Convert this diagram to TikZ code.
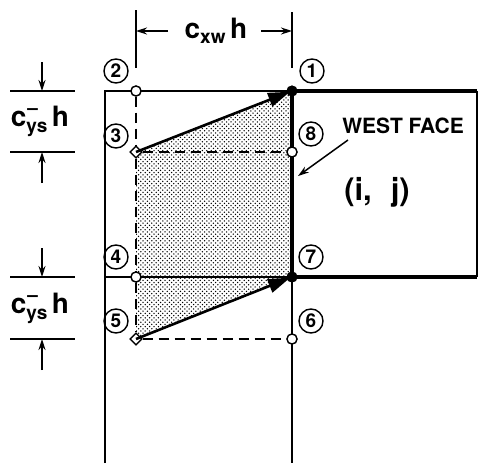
\documentclass[tikz,border=0pt]{standalone}
\usepackage{fontspec}
\setmainfont{TeX Gyre Heros}
\usetikzlibrary{arrows.meta,patterns,shapes.geometric}

\pgfdeclarepatternformonly{stipple}{\pgfqpoint{-1pt}{-1pt}}{\pgfqpoint{5pt}{5pt}}{\pgfqpoint{4.4pt}{4.4pt}}{%
    \pgfpathcircle{\pgfqpoint{0pt}{0pt}}{0.75pt}%
    \pgfpathcircle{\pgfqpoint{2.2pt}{2.2pt}}{0.75pt}%
    \pgfusepath{fill}}

\begin{document}
\begin{tikzpicture}[x=1pt, y=-1pt, line width=1.6pt,
    num/.style={circle, draw, line width=1.4pt, inner sep=0pt, minimum size=24pt,
        font=\bfseries\fontsize{19}{19}\selectfont},
    opendot/.style={circle, draw, line width=1.3pt, fill=white, inner sep=0pt, minimum size=10pt},
    fulldot/.style={circle, fill=black, inner sep=0pt, minimum size=11pt},
    corner/.style={diamond, draw, line width=1.3pt, fill=white, inner sep=0pt, minimum size=12pt},
    dimarrow/.style={-{Stealth[length=11pt,width=7pt]}, line width=1.5pt},
    flux/.style={-{Triangle[length=22pt,width=14pt]}, line width=2.6pt, shorten >=2pt},
    bold/.style={font=\bfseries\fontsize{28}{28}\selectfont},
    hatch/.style={dash pattern=on 10pt off 6pt}]

    \useasboundingbox (0,0) rectangle (479,463);

    % Define grid points
    \node[fulldot] (p1) at (292,91) {};
    \node[opendot] (p2) at (136,91) {};
    \node[corner] (p3) at (136,152) {};
    \node[opendot] (p8) at (292,152) {};
    \node[opendot] (p4) at (136,277) {};
    \node[fulldot] (p7) at (292,277) {};
    \node[corner] (p5) at (136,339) {};
    \node[opendot] (p6) at (292,339) {};

    % Shaded region swept through the west face
    \fill[pattern=stipple] (p3.center) -- (p1.center) -- (p7.center) -- (p5.center) -- cycle;

    % Grid lines
    \draw (105,463) -- (105,91) -- (p1.center);
    \draw (105,277) -- (p7.center) -- (292,463);
    \draw[line width=4pt] (p1.center) -- (477,91);
    \draw[line width=4pt] (p7.center) -- (477,277);
    \draw[line width=2.2pt] (477,91) -- (477,277);
    \draw[line width=4.5pt] (p1.center) -- (p7.center);
    \draw[hatch] (p2) -- (p3) -- (p4) -- (p5);
    \draw[hatch] (p3) -- (p8);
    \draw[hatch] (p5) -- (p6);

    % Redraw points on top
    \node[opendot] at (p2) {};
    \node[corner] at (p3) {};
    \node[opendot] at (p8) {};
    \node[opendot] at (p4) {};
    \node[corner] at (p5) {};
    \node[opendot] at (p6) {};

    % Flux vectors
    \draw[flux] (p3.center) -- (p1.center);
    \draw[flux] (p5.center) -- (p7.center);
    \node[fulldot] at (p1) {};
    \node[fulldot] at (p7) {};

    % Point numbers
    \node[num] (n1) at (312,71) {1};
    \node[num] (n2) at (116,71) {2};
    \node[num] (n3) at (116,136) {3};
    \node[num] (n4) at (116,257) {4};
    \node[num] (n5) at (116,321) {5};
    \node[num] (n6) at (311,321) {6};
    \node[num] (n7) at (311,257) {7};
    \node[num] (n8) at (311,134) {8};

    % Horizontal dimension
    \draw (136,10) -- (136,68);
    \draw (292,12) -- (292,68);
    \node[bold] (cxw) at (216,31) {c\raisebox{-0.35ex}{\fontsize{19}{19}\selectfont xw}\,h};
    \coordinate (xl) at (168,31);
    \coordinate (xr) at (261,31);
    \draw[dimarrow] (xl) -- (136,31);
    \draw[dimarrow] (xr) -- (292,31);

    % Vertical dimensions
    \foreach \ya/\yb/\nm in {91/152/a, 277/339/b} {
        \draw (10,\ya) -- (75,\ya);
        \draw (10,\yb) -- (75,\yb);
        \coordinate (top\nm) at (42,\ya-29);
        \coordinate (bot\nm) at (42,\yb+31);
        \draw[dimarrow] (top\nm) -- (42,\ya);
        \draw[dimarrow] (bot\nm) -- (42,\yb);
        \node[bold] (cys\nm) at (40,{(\ya+\yb)/2})
            {c\raisebox{-0.4ex}{\fontsize{19}{19}\selectfont\rlap{\raisebox{0.95em}{\kern0.05em--}}ys}\,h};
    }

    % West face label
    \node[font=\bfseries\fontsize{21}{21}\selectfont] (west) at (403,126) {WEST FACE};
    \coordinate (wtail) at (348,140);
    \draw[dimarrow] (wtail) -- (298,176);
    \node[font=\bfseries\fontsize{31}{31}\selectfont] (cell) at (377,192) {(i,\,\, j)};
\end{tikzpicture}
\end{document}
